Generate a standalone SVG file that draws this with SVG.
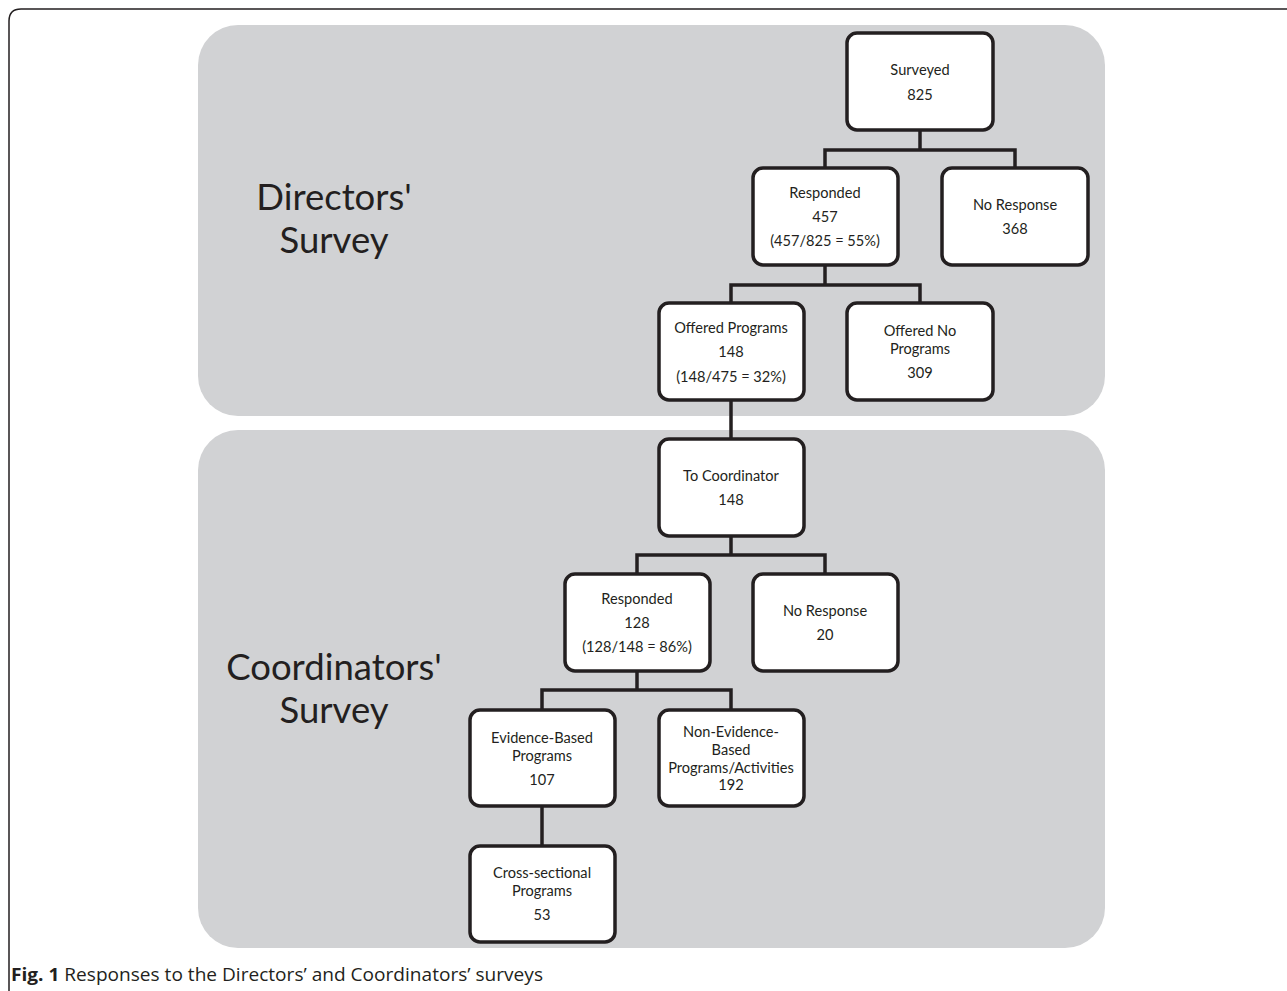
<svg xmlns="http://www.w3.org/2000/svg" width="1287" height="991" viewBox="0 0 1287 991">
<style>
.panel{fill:#d1d2d4}
.box{fill:#ffffff;stroke:#231f20;stroke-width:3.5}
.t{font-family:Lato,"Open Sans",sans-serif;font-size:14.6px;fill:#231f20;text-anchor:middle}
.big{font-family:Lato,"Open Sans",sans-serif;font-size:36.5px;fill:#231f20;text-anchor:middle}
.cap{font-family:"Open Sans",Lato,sans-serif;font-size:18.5px;fill:#231f20}
.conn{fill:none;stroke:#231f20;stroke-width:3.5;stroke-linejoin:miter}
</style>
<rect width="1287" height="991" fill="#ffffff"/>
<path d="M9 991 V21 Q9 9 21 9 H1287" fill="none" stroke="#231f20" stroke-width="1.5"/>
<g id="panel-directors"><rect class="panel" x="198" y="25" width="907" height="391" rx="40"/>
<text class="big" x="334" y="210">Directors'</text><text class="big" x="334" y="253">Survey</text></g>
<g id="panel-coordinators"><rect class="panel" x="198" y="430" width="907" height="518" rx="40"/>
<text class="big" x="334" y="680">Coordinators'</text><text class="big" x="334" y="723">Survey</text></g>
<g id="connectors">
<path class="conn" d="M920 130 V150 M825 168 V150 H1015 V168"/>
<path class="conn" d="M825 265 V285 M731 303 V285 H920 V303"/>
<path class="conn" d="M731 400 V439"/>
<path class="conn" d="M731 536 V555 M637 574 V555 H825 V574"/>
<path class="conn" d="M637 671 V690 M542 710 V690 H731 V710"/>
<path class="conn" d="M542 806 V846"/>
</g>
<g id="n-surveyed"><rect class="box" x="847" y="33" width="146" height="97" rx="10"/>
<text class="t" x="920" y="75">Surveyed</text><text class="t" x="920" y="100">825</text></g>
<g id="n-responded1"><rect class="box" x="753" y="168" width="145" height="97" rx="10"/>
<text class="t" x="825" y="198">Responded</text><text class="t" x="825" y="222">457</text><text class="t" x="825" y="246">(457/825 = 55%)</text></g>
<g id="n-noresp1"><rect class="box" x="942" y="168" width="146" height="97" rx="10"/>
<text class="t" x="1015" y="210">No Response</text><text class="t" x="1015" y="234">368</text></g>
<g id="n-offered"><rect class="box" x="659" y="303" width="145" height="97" rx="10"/>
<text class="t" x="731" y="333">Offered Programs</text><text class="t" x="731" y="357">148</text><text class="t" x="731" y="382">(148/475 = 32%)</text></g>
<g id="n-offeredno"><rect class="box" x="847" y="303" width="146" height="97" rx="10"/>
<text class="t" x="920" y="336">Offered No</text><text class="t" x="920" y="354">Programs</text><text class="t" x="920" y="378">309</text></g>
<g id="n-tocoord"><rect class="box" x="659" y="439" width="145" height="97" rx="10"/>
<text class="t" x="731" y="481">To Coordinator</text><text class="t" x="731" y="505">148</text></g>
<g id="n-responded2"><rect class="box" x="565" y="574" width="145" height="97" rx="10"/>
<text class="t" x="637" y="604">Responded</text><text class="t" x="637" y="628">128</text><text class="t" x="637" y="652">(128/148 = 86%)</text></g>
<g id="n-noresp2"><rect class="box" x="753" y="574" width="145" height="97" rx="10"/>
<text class="t" x="825" y="616">No Response</text><text class="t" x="825" y="640">20</text></g>
<g id="n-evidence"><rect class="box" x="470" y="710" width="145" height="96" rx="10"/>
<text class="t" x="542" y="743">Evidence-Based</text><text class="t" x="542" y="761">Programs</text><text class="t" x="542" y="785">107</text></g>
<g id="n-nonevidence"><rect class="box" x="659" y="710" width="145" height="96" rx="10"/>
<text class="t" x="731" y="737">Non-Evidence-</text><text class="t" x="731" y="755">Based</text><text class="t" x="731" y="773">Programs/Activities</text><text class="t" x="731" y="790">192</text></g>
<g id="n-cross"><rect class="box" x="470" y="846" width="145" height="96" rx="10"/>
<text class="t" x="542" y="878">Cross-sectional</text><text class="t" x="542" y="896">Programs</text><text class="t" x="542" y="920">53</text></g>
<text class="cap" x="11" y="981" textLength="532" lengthAdjust="spacingAndGlyphs"><tspan font-weight="bold">Fig. 1</tspan> Responses to the Directors’ and Coordinators’ surveys</text>
</svg>
